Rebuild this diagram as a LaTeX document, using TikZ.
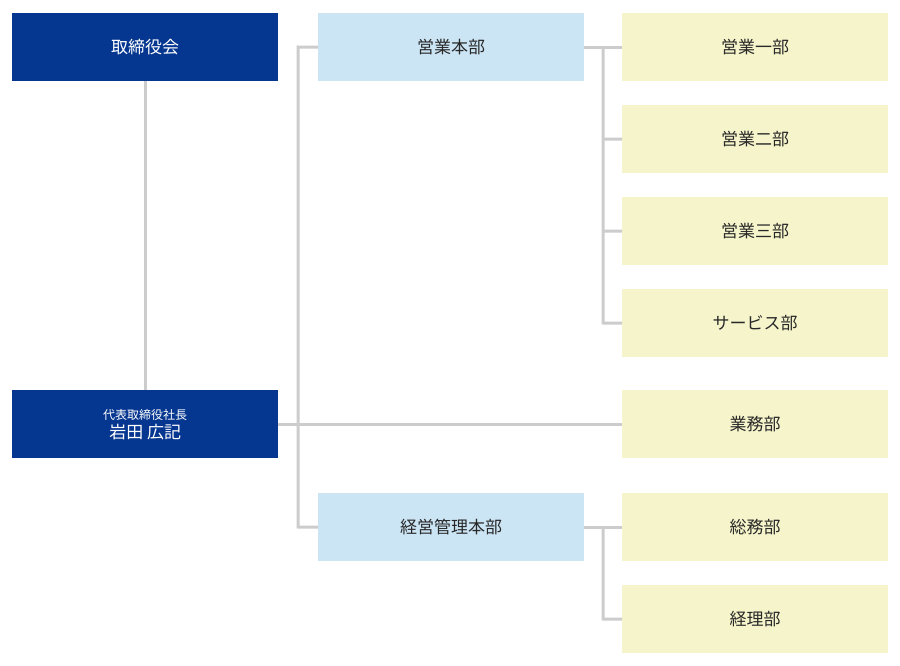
\documentclass[tikz,border=0pt]{standalone}
\usepackage{fontspec}
\setmainfont{Noto Sans CJK JP}
\begin{document}
\begin{tikzpicture}[x=1pt,y=-1pt,
  box/.style={minimum width=266pt,minimum height=68pt,inner sep=0pt,anchor=north west,font=\fontsize{17}{20}\selectfont},
  dark/.style={box,fill={rgb,255:red,6;green,55;blue,144},text=white},
  light/.style={box,fill={rgb,255:red,204;green,229;blue,245},text={rgb,255:red,40;green,40;blue,40}},
  yel/.style={box,fill={rgb,255:red,245;green,244;blue,203},text={rgb,255:red,40;green,40;blue,40}},
  conn/.style={draw={rgb,255:red,204;green,204;blue,204},line width=3pt}]
\useasboundingbox (0,0) rectangle (900,666);
\node[dark] (board) at (12,13) {取締役会};
\node[dark,align=center] (ceo) at (12,390) {{\fontsize{12}{14}\selectfont 代表取締役社長}\\[-1pt]岩田 広記};
\node[light] (sales) at (318,13) {営業本部};
\node[light] (admin) at (318,493) {経営管理本部};
\node[yel] (s1) at (622,13) {営業一部};
\node[yel] (s2) at (622,105) {営業二部};
\node[yel] (s3) at (622,197) {営業三部};
\node[yel] (svc) at (622,289) {サービス部};
\node[yel] (gyo) at (622,390) {業務部};
\node[yel] (gen) at (622,493) {総務部};
\node[yel] (acc) at (622,585) {経理部};
\begin{scope}[on background layer/.style={}]
\draw[conn] (board.south) -- (ceo.north);
\draw[conn] (ceo.east) -- (gyo.west);
\draw[conn] (sales.west) -- (298,47) -- (298,527) -- (admin.west);
\draw[conn] (sales.east) -- (s1.west);
\draw[conn] (603,47) -- (603,323) -- (svc.west);
\draw[conn] (603,139) -- (s2.west);
\draw[conn] (603,231) -- (s3.west);
\draw[conn] (admin.east) -- (gen.west);
\draw[conn] (603,527) -- (603,619) -- (acc.west);
\end{scope}
\end{tikzpicture}
\end{document}
